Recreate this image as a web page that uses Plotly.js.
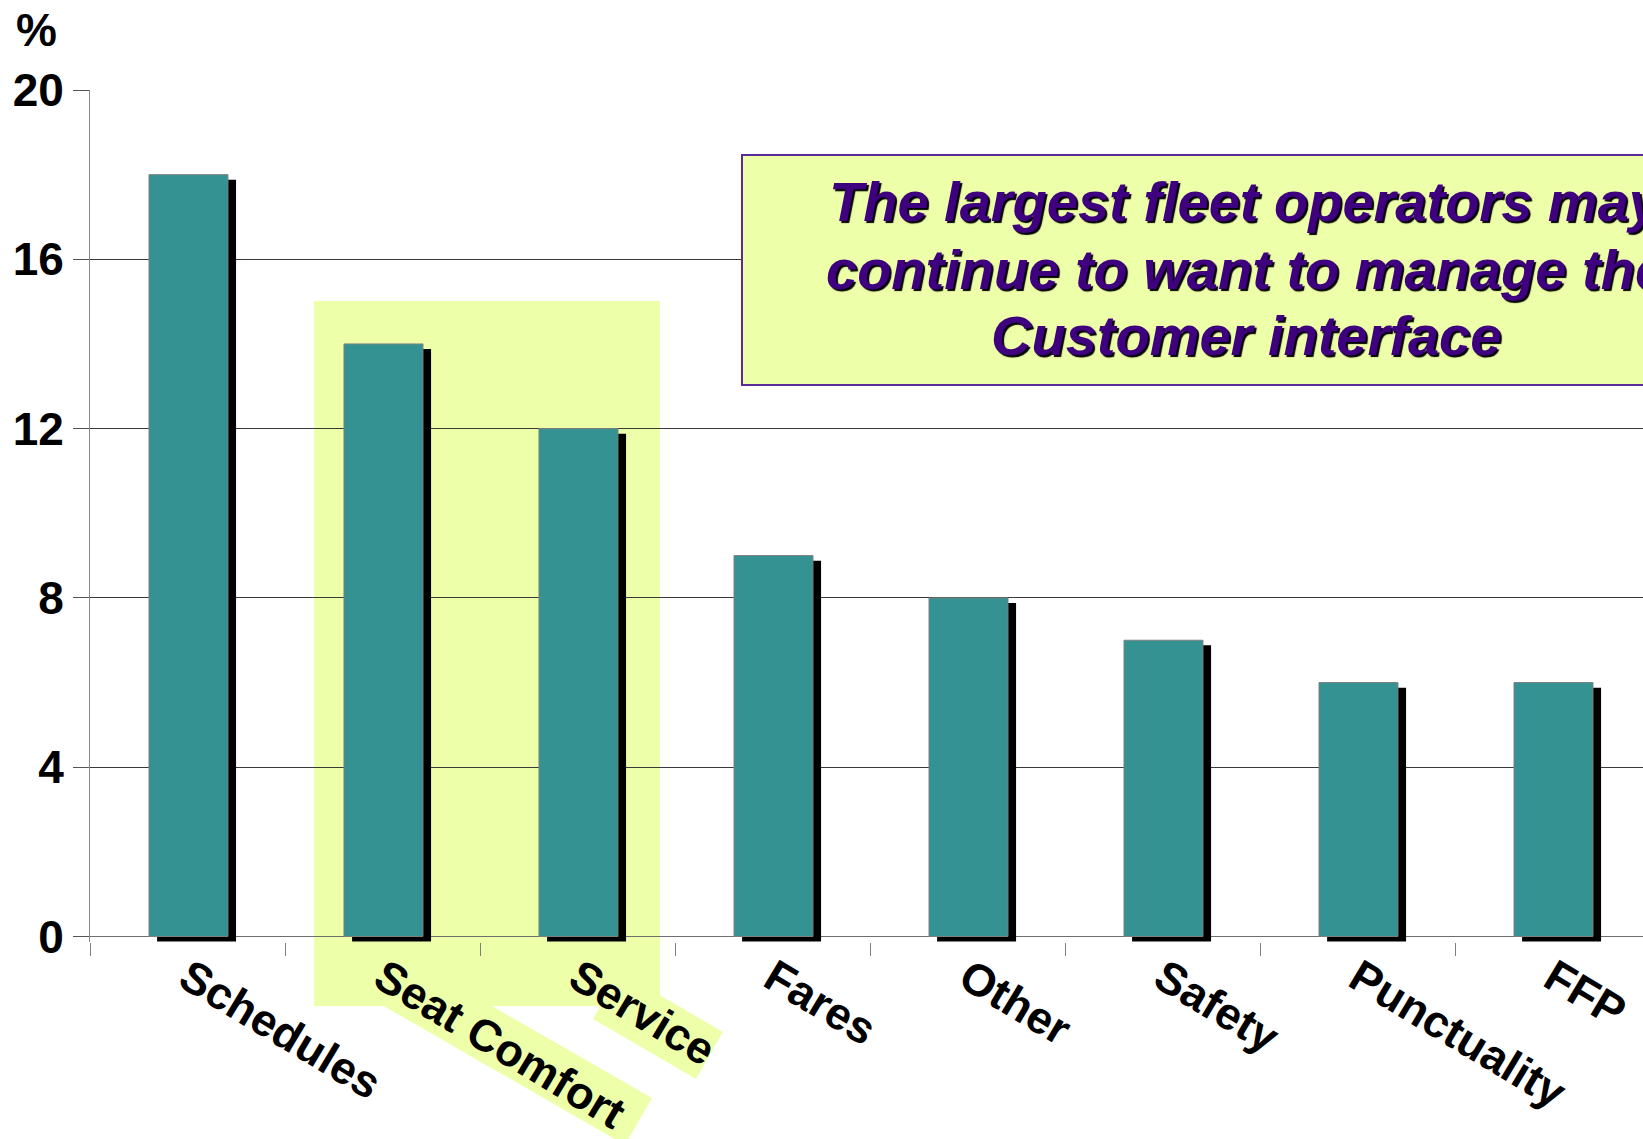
<!DOCTYPE html>
<html>
<head>
<meta charset="utf-8">
<script src="https://cdn.plot.ly/plotly-3.0.1.min.js"></script>
<style>
  html, body { margin: 0; padding: 0; background: #fff; overflow: hidden; }
  #chart { width: 1643px; height: 1139px; }
</style>
</head>
<body>
<div id="chart"></div>
<script>
// ---- data ----
const categories = ["Schedules", "Seat Comfort", "Service", "Fares", "Other", "Safety", "Punctuality", "FFP"];
const values = [18, 14, 12, 9, 8, 7, 6, 6];
const yTicks = [0, 4, 8, 12, 16, 20];
const yUnit = "%";
const calloutLines = ["The largest fleet operators may", "continue to want to manage the", "Customer interface"];

// ---- layout geometry (pixels) ----
const W = 1643, H = 1139;
const M = { l: 90, r: 0, t: 90, b: 197 };
const plotW = W - M.l - M.r, plotH = H - M.t - M.b;
const px = x => (x - M.l) / plotW;          // pixel x -> paper x
const py = y => (H - M.b - y) / plotH;      // pixel y -> paper y

const FONT = "Liberation Sans, Arial, Helvetica, sans-serif";
const HL = "rgb(238,255,170)";

function poly(pts) {
  return "M" + pts.map(p => px(p[0]).toFixed(5) + "," + py(p[1]).toFixed(5)).join(" L") + " Z";
}

const shadow = {
  type: "bar", x: categories, y: values, base: -0.12,
  width: 0.405, offset: -0.156,
  marker: { color: "#000000", line: { width: 0 } },
  hoverinfo: "skip", showlegend: false
};
const bars = {
  type: "bar", x: categories, y: values,
  width: 0.405, offset: -0.1975,
  marker: { color: "#349292", line: { color: "#7f7f7f", width: 1 } },
  showlegend: false
};

// callout box geometry (pixels)
const box = { x0: 742, y0: 155, x1: 1750, y1: 385 };
const boxCx = (box.x0 + box.x1) / 2;
const lineYs = [201, 269, 335];

const calloutAnns = calloutLines.map((t, i) => ({
  xref: "paper", yref: "paper", x: px(boxCx), y: py(lineYs[i]),
  xanchor: "center", yanchor: "middle", text: t, showarrow: false,
  font: { family: FONT, size: 56, weight: "bold", style: "italic", color: "#3f0080",
          shadow: "2px 2px 1px #000" }
}));

const layout = {
  width: W, height: H,
  margin: M,
  paper_bgcolor: "#ffffff", plot_bgcolor: "rgba(0,0,0,0)",
  barmode: "overlay",
  showlegend: false,
  font: { family: FONT, color: "#000" },
  xaxis: {
    type: "category", range: [-0.5, 7.464],
    tickson: "boundaries", ticks: "outside", ticklen: 13, tickcolor: "#7f7f7f", tickwidth: 1,
    tickangle: 31,
    tickfont: { family: FONT, size: 45, weight: "bold", color: "#000" },
    showline: false, showgrid: false, zeroline: false
  },
  yaxis: {
    range: [-0.13, 20], tickvals: yTicks, ticktext: yTicks.map(String),
    ticks: "outside", ticklen: 16, tickcolor: "#555", tickwidth: 1,
    tickfont: { family: FONT, size: 46, weight: "bold", color: "#000" },
    showline: true, linecolor: "#8a8a8a", linewidth: 1,
    showgrid: true, gridcolor: "#3a3a3a", gridwidth: 1,
    zeroline: true, zerolinecolor: "#6f6f6f", zerolinewidth: 1
  },
  shapes: [
    { type: "rect", xref: "paper", yref: "paper", layer: "below",
      x0: px(314), x1: px(660), y0: py(1006), y1: py(301),
      fillcolor: HL, line: { width: 0 } },
    { type: "path", xref: "paper", yref: "paper", layer: "below",
      path: poly([[457, 986], [652, 1098], [625, 1145], [349, 986]]),
      fillcolor: HL, line: { width: 0 } },
    { type: "path", xref: "paper", yref: "paper", layer: "below",
      path: poly([[620, 972], [723, 1032], [696, 1079], [593, 1019]]),
      fillcolor: HL, line: { width: 0 } },
    { type: "rect", xref: "paper", yref: "paper", layer: "above",
      x0: px(box.x0), x1: px(box.x1), y0: py(box.y1), y1: py(box.y0),
      fillcolor: HL, line: { color: "#5a2a96", width: 2 } }
  ],
  annotations: [
    { xref: "paper", yref: "paper", x: px(14), y: py(2), xanchor: "left", yanchor: "top",
      text: yUnit, showarrow: false,
      font: { family: FONT, size: 46, weight: "bold", color: "#000" } }
  ].concat(calloutAnns)
};

Plotly.newPlot("chart", [shadow, bars], layout, { staticPlot: true, displayModeBar: false });
</script>
</body>
</html>
